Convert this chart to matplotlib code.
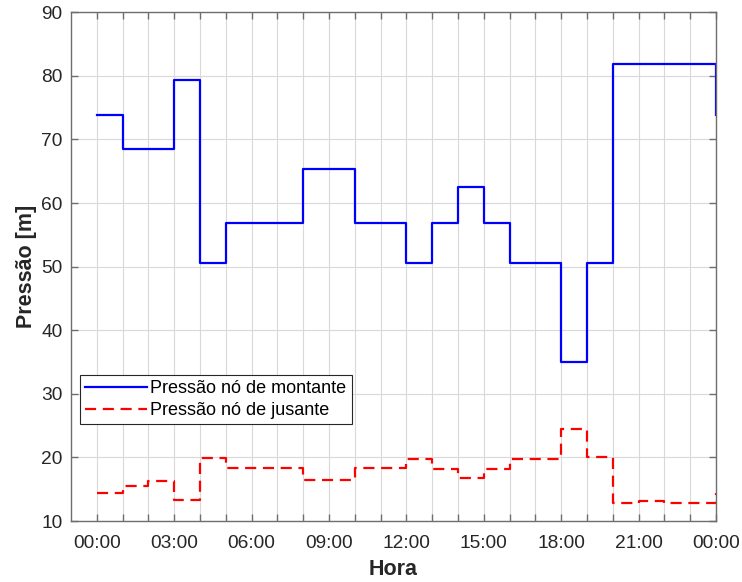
import numpy as np
import matplotlib
matplotlib.use("Agg")
import matplotlib.pyplot as plt

# hourly values (stairs, last point repeats start of day)
hours = list(range(25))
montante = [73.8, 68.5, 68.5, 79.3, 50.5, 56.8, 56.8, 56.8, 65.4, 65.4, 56.8, 56.8,
            50.5, 56.8, 62.5, 56.8, 50.5, 50.5, 35.0, 50.5, 81.8, 81.8, 81.8, 81.8, 73.8]
jusante = [14.4, 15.5, 16.3, 13.3, 19.9, 18.3, 18.3, 18.3, 16.4, 16.4, 18.3, 18.3,
           19.8, 18.2, 16.8, 18.2, 19.8, 19.8, 24.4, 20.0, 12.8, 13.1, 12.8, 12.8, 14.4]
tick_labels = ["00:00", "03:00", "06:00", "09:00", "12:00", "15:00", "18:00", "21:00", "00:00"]

plt.rcParams['font.family'] = ['Liberation Sans', 'DejaVu Sans']

fig = plt.figure(figsize=(7.42, 5.82), dpi=100)
ax = fig.add_axes([0.0957, 0.1048, 0.8693, 0.8742])

ax.step(hours, montante, where='post', color='#0000ff', lw=1.6, label='Pressão nó de montante')
ax.step(hours, jusante, where='post', color='#ff0000', lw=1.6, ls=(0, (5, 3)),
        label='Pressão nó de jusante')

ax.set_xlim(-1, 24)
ax.set_ylim(10, 90)
ax.set_xticks(hours)
ax.set_xticklabels([tick_labels[h // 3] if h % 3 == 0 else "" for h in hours])
ax.set_yticks(range(10, 91, 10))

ax.grid(True, color='#d9d9d9', lw=0.8)
ax.set_axisbelow(True)
for s in ax.spines.values():
    s.set_color('#6e6e6e')
    s.set_linewidth(1.0)
ax.tick_params(direction='in', top=True, right=True, length=5, width=1.0,
               color='#6e6e6e', labelsize=13.8, labelcolor='#262626')
ax.tick_params(axis='x', pad=10)
ax.tick_params(axis='y', pad=6)

ax.set_xlabel('Hora', fontsize=15.5, fontweight='bold', color='#262626', labelpad=5)
ax.set_ylabel('Pressão [m]', fontsize=15.5, fontweight='bold', color='#262626', labelpad=3)

leg = ax.legend(loc='upper left', bbox_to_anchor=(0.014, 0.287), fontsize=13,
                frameon=True, fancybox=False, edgecolor='#262626', framealpha=1,
                borderaxespad=0, handlelength=3.4, handletextpad=0.2,
                borderpad=0.3, labelspacing=0.25)
leg.get_frame().set_linewidth(0.8)

fig.savefig('out.png', dpi=100)
